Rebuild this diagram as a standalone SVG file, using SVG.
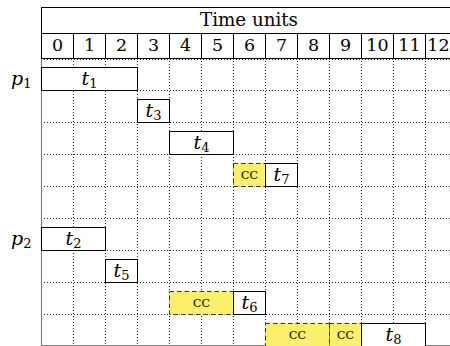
<svg xmlns="http://www.w3.org/2000/svg" width="450" height="346" viewBox="0 0 450 346" font-family="'DejaVu Serif', 'Liberation Serif', serif">
<style>
text{font-family:'DejaVu Serif','Liberation Serif',serif;fill:#000}
.num{font-size:17.5px;text-anchor:middle}
.lbl{font-size:19px;text-anchor:middle}
.v{font-style:italic}
.s{font-size:13px}
.pl{font-size:19px}
.cc{font-size:15px;font-variant:small-caps;text-anchor:middle}
.solid{stroke:#000;stroke-width:1;fill:none}
.dot{stroke:#222;stroke-width:1;stroke-dasharray:1 2;fill:none}
.axis{stroke:#808080;stroke-width:1.2;fill:none}
.task{fill:#fff;stroke:#000;stroke-width:1}
.comm{fill:#fbef6c;stroke:#333;stroke-width:1;stroke-dasharray:4.5 3}
</style>
<rect width="450" height="346" fill="#fff"/>
<g id="grid">
  <path class="dot" d="M73.5 58V346M105.5 58V346M137.5 58V346M169.5 58V346M201.5 58V346M233.5 58V346M265.5 58V346M297.5 58V346M329.5 58V346M361.5 58V346M393.5 58V346M425.5 58V346"/>
  <path class="dot" d="M41 59.5H450M41 90.5H450M41 122.5H450M41 154.5H450M41 186.5H450M41 218.5H450M41 250.5H450M41 282.5H450M41 314.5H450"/>
  <path class="axis" d="M41.5 58V346M41 345.5H450"/>
</g>
<g id="header">
  <path class="solid" d="M41 7.5H450M41 33.5H450M41 58.5H450M41.5 7V58.5M73.5 33V58.5M105.5 33V58.5M137.5 33V58.5M169.5 33V58.5M201.5 33V58.5M233.5 33V58.5M265.5 33V58.5M297.5 33V58.5M329.5 33V58.5M361.5 33V58.5M393.5 33V58.5M425.5 33V58.5"/>
  <text x="200" y="25.5" font-size="18" textLength="98" lengthAdjust="spacingAndGlyphs">Time units</text>
  <text class="num" x="57.5" y="51">0</text>
  <text class="num" x="89.5" y="51">1</text>
  <text class="num" x="121.5" y="51">2</text>
  <text class="num" x="153.5" y="51">3</text>
  <text class="num" x="185.5" y="51">4</text>
  <text class="num" x="217.5" y="51">5</text>
  <text class="num" x="249.5" y="51">6</text>
  <text class="num" x="281.5" y="51">7</text>
  <text class="num" x="313.5" y="51">8</text>
  <text class="num" x="345.5" y="51">9</text>
  <text class="num" x="377.5" y="51">10</text>
  <text class="num" x="409.5" y="51">11</text>
  <text class="num" x="438.5" y="51">12</text>
</g>
<g id="p1"><text class="pl" x="11" y="85"><tspan class="v">p</tspan><tspan class="s" dy="3">1</tspan></text></g>
<g id="p2"><text class="pl" x="11" y="245"><tspan class="v">p</tspan><tspan class="s" dy="3">2</tspan></text></g>
<g id="t1"><rect class="task" x="41.5" y="67.5" width="96" height="23"/><text class="lbl" x="89.5" y="84.5"><tspan class="v">t</tspan><tspan class="s" dy="3">1</tspan></text></g>
<g id="t3"><rect class="task" x="137.5" y="99.5" width="32" height="23"/><text class="lbl" x="153.5" y="116.5"><tspan class="v">t</tspan><tspan class="s" dy="3">3</tspan></text></g>
<g id="t4"><rect class="task" x="169.5" y="131.5" width="64" height="23"/><text class="lbl" x="201.5" y="148.5"><tspan class="v">t</tspan><tspan class="s" dy="3">4</tspan></text></g>
<g id="cc1"><rect class="comm" x="233.5" y="163.5" width="32" height="23"/><text class="cc" x="249.5" y="179">cc</text></g>
<g id="t7"><rect class="task" x="265.5" y="163.5" width="32" height="23"/><text class="lbl" x="281.5" y="180.5"><tspan class="v">t</tspan><tspan class="s" dy="3">7</tspan></text></g>
<g id="t2"><rect class="task" x="41.5" y="227.5" width="64" height="23"/><text class="lbl" x="73.5" y="244.5"><tspan class="v">t</tspan><tspan class="s" dy="3">2</tspan></text></g>
<g id="t5"><rect class="task" x="105.5" y="259.5" width="32" height="23"/><text class="lbl" x="121.5" y="276.5"><tspan class="v">t</tspan><tspan class="s" dy="3">5</tspan></text></g>
<g id="cc2"><rect class="comm" x="169.5" y="291.5" width="64" height="23"/><text class="cc" x="201.5" y="307">cc</text></g>
<g id="t6"><rect class="task" x="233.5" y="291.5" width="32" height="23"/><text class="lbl" x="249.5" y="308.5"><tspan class="v">t</tspan><tspan class="s" dy="3">6</tspan></text></g>
<g id="cc3"><rect class="comm" x="265.5" y="323.5" width="64" height="23"/><text class="cc" x="297.5" y="339">cc</text></g>
<g id="cc4"><rect class="comm" x="329.5" y="323.5" width="32" height="23"/><text class="cc" x="345.5" y="339">cc</text></g>
<g id="t8"><rect class="task" x="361.5" y="323.5" width="64" height="23"/><text class="lbl" x="393.5" y="340.5"><tspan class="v">t</tspan><tspan class="s" dy="3">8</tspan></text></g>
</svg>
